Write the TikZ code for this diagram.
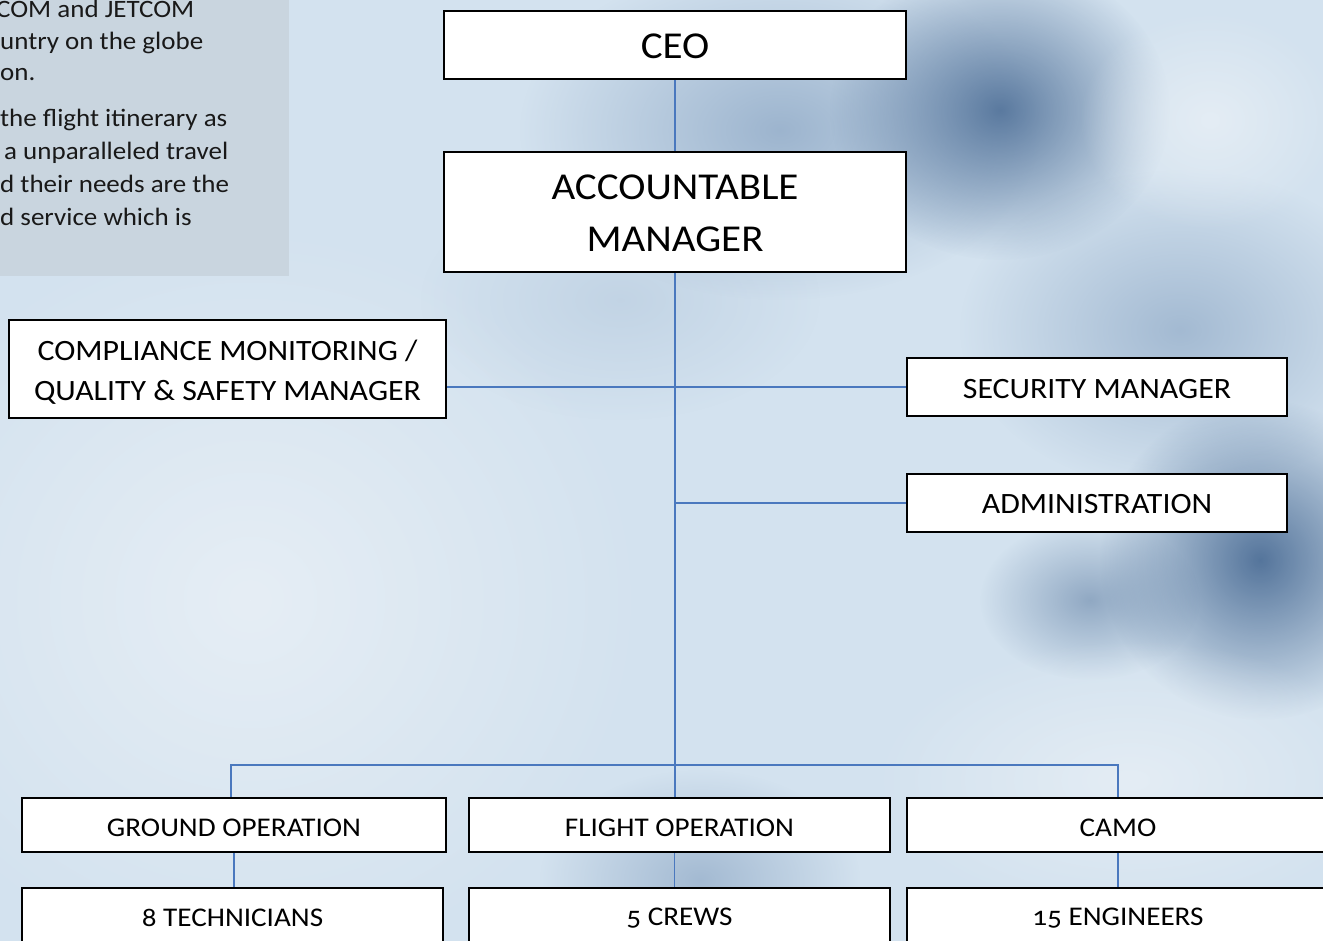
\documentclass[tikz,border=0pt]{standalone}
\usepackage{fontspec}
\setmainfont{Carlito}[Numbers=OldStyle, FakeStretch=1.08]
\usetikzlibrary{fadings}
\tikzfading[name=blob, inner color=transparent!0, outer color=transparent!100]
\newcommand\lowered[2]{\raisebox{-#1pt}[\height][\depth]{#2}}
\definecolor{bg}{HTML}{D3E2EF}
\definecolor{lineblue}{HTML}{4A78BE}
\definecolor{panel}{HTML}{C9D4DE}
\definecolor{darkwash}{HTML}{4E6F97}
\definecolor{midwash}{HTML}{8FA9C6}
\definecolor{lightwash}{HTML}{E6EEF5}
\begin{document}
\begin{tikzpicture}[x=1pt,y=-1pt,
  box/.style={draw=black, line width=1.6pt, fill=white, inner sep=0pt, align=center},
  bigtxt/.style={font=\fontsize{38}{52}\selectfont},
  midtxt/.style={font=\fontsize{29.5}{40}\selectfont},
  smalltxt/.style={font=\fontsize{27}{32}\selectfont},
  conn/.style={draw=lineblue, line width=1.5pt},
  wash/.style={path fading=blob}]
\useasboundingbox (0,0) rectangle (1323,941);
\begin{scope}
\clip (0,0) rectangle (1323,941);
% background watercolor
\fill[bg] (0,0) rectangle (1323,941);
\fill[lightwash, wash] (250,600) ellipse [x radius=400, y radius=380];
\fill[midwash, wash, opacity=0.8] (780,130) ellipse [x radius=260, y radius=170];
\fill[darkwash, wash, opacity=0.9] (1000,110) ellipse [x radius=170, y radius=150];
\fill[midwash, wash, opacity=0.7] (1180,330) ellipse [x radius=220, y radius=160];
\fill[darkwash, wash, opacity=0.95] (1260,560) ellipse [x radius=160, y radius=160];
\fill[darkwash, wash, opacity=0.5] (1090,600) ellipse [x radius=110, y radius=80];
\fill[lightwash, wash, opacity=0.9] (1210,120) ellipse [x radius=130, y radius=110];
\fill[lightwash, wash, opacity=0.9] (1130,780) ellipse [x radius=260, y radius=140];
\fill[midwash, wash, opacity=0.7] (700,880) ellipse [x radius=160, y radius=110];
\fill[midwash, wash, opacity=0.25] (620,300) ellipse [x radius=200, y radius=120];
% top-left panel
\fill[panel, opacity=0.92] (0,0) rectangle (289,276);
\begin{scope}[every node/.style={anchor=base west, inner sep=0pt, text=black!90, font=\fontsize{25}{33}\selectfont}]
\node (p1) at (-4,18) {COM and JETCOM};
\node (p2) at (0,50) {untry on the globe};
\node (p3) at (0,81) {on.};
\node (p4) at (0,127) {the flight itinerary as};
\node (p5) at (4,160) {a unparalleled travel};
\node (p6) at (0,193) {d their needs are the};
\node (p7) at (0,226) {d service which is};
\end{scope}
% boxes
\node[box, bigtxt, minimum width=462, minimum height=68] (ceo) at (675,45) {\lowered{1}{CEO}};
\node[box, bigtxt, minimum width=462, minimum height=120] (am) at (675,212) {\lowered{1.5}{ACCOUNTABLE}\\\lowered{1.5}{MANAGER}};
\node[box, midtxt, minimum width=437, minimum height=98] (comp) at (227.5,369) {\lowered{3}{COMPLIANCE MONITORING /}\\\lowered{3}{QUALITY \& SAFETY MANAGER}};
\node[box, midtxt, minimum width=380, minimum height=58] (sec) at (1097,387) {\lowered{2}{SECURITY MANAGER}};
\node[box, midtxt, minimum width=380, minimum height=58] (adm) at (1097,503) {\lowered{1.5}{ADMINISTRATION}};
\node[box, smalltxt, minimum width=424, minimum height=54] (ground) at (234,825) {\lowered{3}{GROUND OPERATION}};
\node[box, smalltxt, minimum width=421, minimum height=54] (flight) at (679.5,825) {\lowered{3}{FLIGHT OPERATION}};
\node[box, smalltxt, minimum width=422, minimum height=54] (camo) at (1118,825) {\lowered{3}{CAMO}};
\node[box, smalltxt, minimum width=421, minimum height=54] (tech) at (232.5,915) {\lowered{3}{8 TECHNICIANS}};
\node[box, smalltxt, minimum width=421, minimum height=54] (crews) at (679.5,915) {\lowered{3}{5 CREWS}};
\node[box, smalltxt, minimum width=422, minimum height=54] (eng) at (1118,915) {\lowered{3}{15 ENGINEERS}};
% connectors
\draw[conn] (ceo.south) -- (am.north);
\draw[conn] (am.south) -- (am.south |- flight.north);
\draw[conn] (comp.east |- sec.west) -- (sec.west);
\draw[conn] (am.south |- adm.west) -- (adm.west);
\draw[conn] ([xshift=-3pt]ground.north) -- ++(0,-32) -| (camo.north);
\draw[conn] (ground.south) -- (ground.south |- tech.north);
\draw[conn] ([xshift=-5pt]flight.south) -- ([xshift=-5pt]crews.north);
\draw[conn] (camo.south) -- (eng.north);
\end{scope}
\end{tikzpicture}
\end{document}
